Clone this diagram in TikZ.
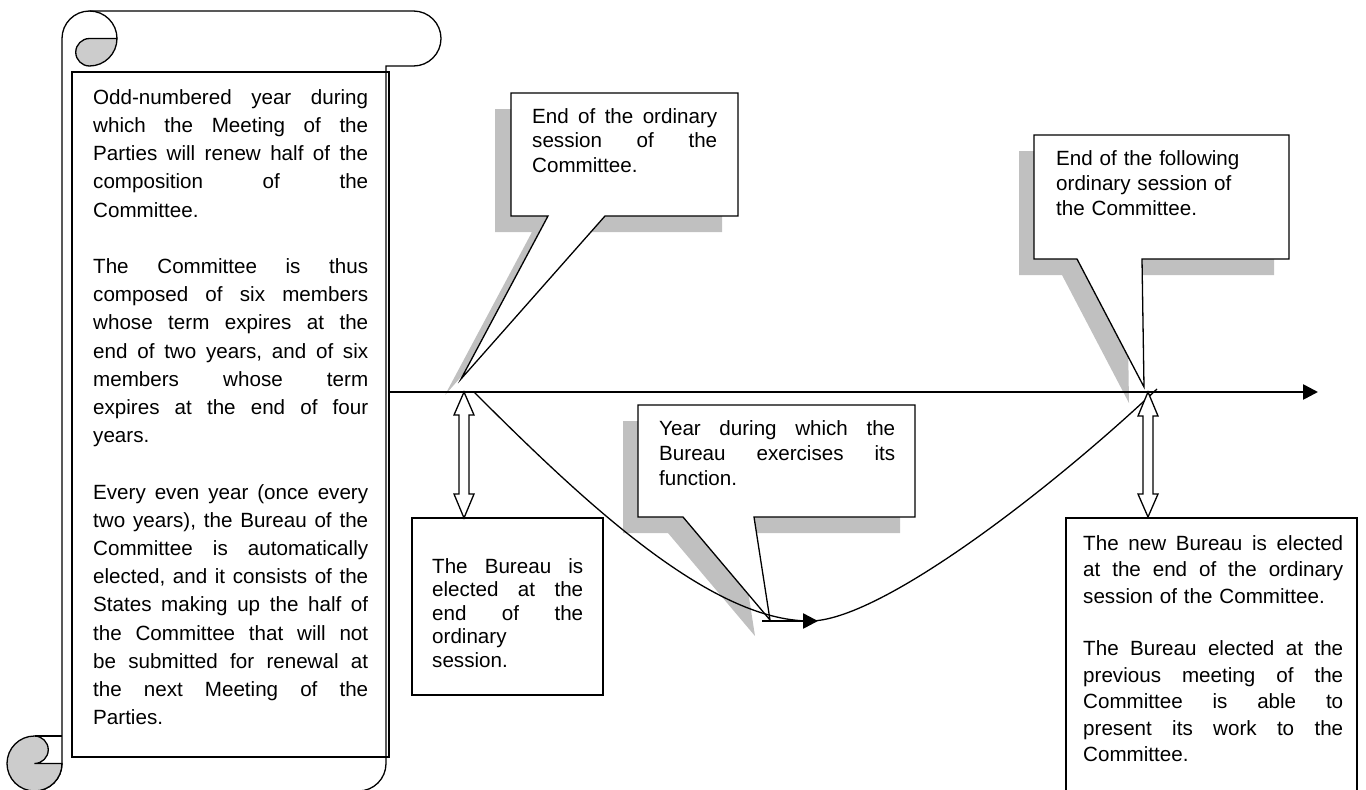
\documentclass[tikz,border=0pt]{standalone}
\usepackage{fontspec}
\setmainfont{Liberation Sans}
\usetikzlibrary{arrows.meta}
\definecolor{shade}{HTML}{C0C0C0}
\definecolor{curlgray}{HTML}{CCCCCC}
\frenchspacing
\newcommand\JustLine[1]{\hbox to\hsize{\vrule height 16pt depth 0pt width 0pt\spaceskip=.278em plus 1fil\relax #1}}
\newcommand\LastLine[1]{\hbox to\hsize{\vrule height 16pt depth 0pt width 0pt #1\hfil}}
\newcommand\GapLine{\vskip\baselineskip}
\begin{document}
\begin{tikzpicture}[x=1pt,y=-1pt,
  outline/.style={draw=black,line width=1.3pt,line join=miter},
  whitebox/.style={outline,fill=white},
  shadowfill/.style={fill=shade,draw=none},
  curlfill/.style={fill=curlgray,draw=black,line width=1.3pt},
  thinline/.style={draw=black,line width=1.3pt},
  fatarrow/.style={draw=black,line width=2.6pt,-{Triangle[length=15pt,width=15pt]}},
  txt/.style={anchor=north west,inner sep=0pt,font={\fontsize{20.6pt}{#1}\selectfont}},
  txt/.default=24pt]
\useasboundingbox (0,0) rectangle (1366,790);
\fill[white] (0,0) rectangle (1366,790);

% ---------- scroll ----------
\draw[whitebox] (34.5,791) arc[start angle=90,end angle=0,radius=27.5] -- (62,38.5)
  arc[start angle=180,end angle=270,radius=27.5] -- (413.5,11)
  arc[start angle=-90,end angle=90,radius=27.5] -- (386,66) -- (386,763.5)
  arc[start angle=0,end angle=90,radius=27.5] -- cycle;
\draw[curlfill] (89.5,38.5) -- (117,38.5) arc[start angle=0,end angle=90,radius=27.5]
  arc[start angle=90,end angle=270,radius=13.75] -- cycle;
\draw[outline] (89.5,11) arc[start angle=-90,end angle=0,radius=27.5];
\draw[curlfill] (34.5,736) arc[start angle=270,end angle=0,radius=27.5] -- (34.5,763.5)
  arc[start angle=90,end angle=-90,radius=13.75] -- cycle;
\draw[outline] (34.5,736) -- (62,736);
\draw[outline] (72,72) rectangle (389,757);

% ---------- callout shadows ----------
\path[shadowfill,shift={(-16,16)}] (511,93) -- (738,93) -- (738,216) -- (605,216) -- (461,379) -- (548,216) -- (511,216) -- cycle;
\path[shadowfill,shift={(-15,16)}] (1034,135) -- (1289,135) -- (1289,259) -- (1142,259) -- (1144,387) -- (1077,259) -- (1034,259) -- cycle;
\path[shadowfill,shift={(-15,16)}] (638,405) -- (915,405) -- (915,517) -- (754,517) -- (770,620) -- (683,517) -- (638,517) -- cycle;

% ---------- callouts ----------
\draw[whitebox] (511,93) -- (738,93) -- (738,216) -- (605,216) -- (461,379) -- (548,216) -- (511,216) -- cycle;
\draw[whitebox] (1034,135) -- (1289,135) -- (1289,259) -- (1142,259) -- (1144,387) -- (1077,259) -- (1034,259) -- cycle;
\draw[whitebox] (638,405) -- (915,405) -- (915,517) -- (754,517) -- (770,620) -- (683,517) -- (638,517) -- cycle;

% ---------- boxes ----------
\draw[whitebox] (412,518) rectangle (603,695);
\draw[whitebox] (1066,518) rectangle (1357,800);

% ---------- axis and curve ----------
\coordinate (axL) at (388,392);
\coordinate (axR) at (1303,392);
\coordinate (curveA) at (474,392);
\coordinate (curveB) at (810,621);
\coordinate (curveC) at (1157,389);
\coordinate (farrowA) at (1262,392);
\coordinate (farrowB) at (1318,392);
\coordinate (marrowA) at (762,621);
\coordinate (marrowB) at (818,621);
\draw[thinline] (axL) -- (axR);
\draw[thinline] (curveA) .. controls (584,502) and (710,621) .. (curveB)
  .. controls (880,621) and (1050,490) .. (curveC);
\draw[fatarrow] (farrowA) -- (farrowB);
\draw[fatarrow] (marrowA) -- (marrowB);

% ---------- double arrows ----------
\draw[whitebox] (464,392) -- (474,415) -- (469,415) -- (469,494) -- (474,494) -- (464,518)
  -- (454,494) -- (459,494) -- (459,415) -- (454,415) -- cycle;
\draw[whitebox] (1148,392) -- (1158,416) -- (1153,416) -- (1153,494) -- (1158,494) -- (1148,517)
  -- (1138,494) -- (1143,494) -- (1143,416) -- (1138,416) -- cycle;

% ---------- texts ----------
\node[txt=28.2pt,text width=275pt] (scrolltext) at (93,88) {%
\JustLine{Odd-numbered year during}
\JustLine{which the Meeting of the}
\JustLine{Parties will renew half of the}
\JustLine{composition of the}
\LastLine{Committee.}
\GapLine
\JustLine{The Committee is thus}
\JustLine{composed of six members}
\JustLine{whose term expires at the}
\JustLine{end of two years, and of six}
\JustLine{members whose term}
\JustLine{expires at the end of four}
\LastLine{years.}
\GapLine
\JustLine{Every even year (once every}
\JustLine{two years), the Bureau of the}
\JustLine{Committee is automatically}
\JustLine{elected, and it consists of the}
\JustLine{States making up the half of}
\JustLine{the Committee that will not}
\JustLine{be submitted for renewal at}
\JustLine{the next Meeting of the}
\LastLine{Parties.}};

\node[txt=24.5pt,text width=185pt] (calloutonetext) at (532,107) {%
\JustLine{End of the ordinary}
\JustLine{session of the}
\LastLine{Committee.}};

\node[txt=25pt,text width=230pt] (callouttwotext) at (1056,149) {%
\LastLine{End of the following}
\LastLine{ordinary session of}
\LastLine{the Committee.}};

\node[txt=25pt,text width=236pt] (calloutthreetext) at (659,419) {%
\JustLine{Year during which the}
\JustLine{Bureau exercises its}
\LastLine{function.}};

\node[txt=23.5pt,text width=151pt] (electedtext) at (432,557) {%
\JustLine{The Bureau is}
\JustLine{elected at the}
\JustLine{end of the}
\LastLine{ordinary}
\LastLine{session.}};

\node[txt=26.4pt,text width=260pt] (newbureautext) at (1083,534) {%
\JustLine{The new Bureau is elected}
\JustLine{at the end of the ordinary}
\LastLine{session of the Committee.}
\GapLine
\JustLine{The Bureau elected at the}
\JustLine{previous meeting of the}
\JustLine{Committee is able to}
\JustLine{present its work to the}
\LastLine{Committee.}};
\end{tikzpicture}
\end{document}
